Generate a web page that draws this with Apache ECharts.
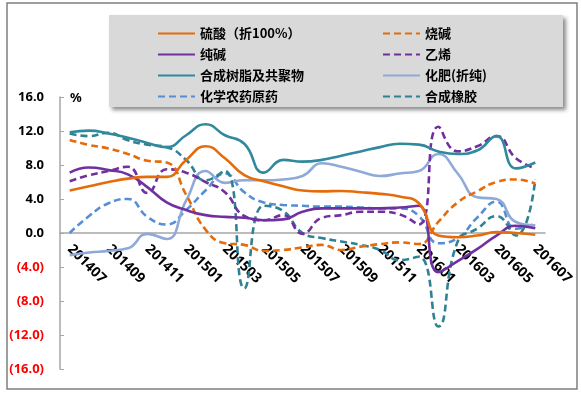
<!DOCTYPE html>
<html>
<head>
<meta charset="utf-8">
<script src="https://cdn.jsdelivr.net/npm/echarts@6/dist/echarts.min.js"></script>
<style>
html,body{margin:0;padding:0;background:#fff;}
#chart{width:581px;height:395px;}
</style>
</head>
<body>
<div id="chart"></div>
<script>
var categories = ['201407','201408','201409','201410','201411','201412','201501','201502','201503','201504','201505','201506','201507','201508','201509','201510','201511','201512','201601','201602','201603','201604','201605','201606','201607'];

var liusuan   = [5.0, 5.5, 6.0, 6.4, 6.6, 6.6, 8.6, 10.2, 8.8, 6.8, 6.1, 5.5, 5.0, 4.9, 4.95, 4.8, 4.6, 4.3, 3.5, -0.3, -0.5, -0.3, 0.1, 0.0, -0.2];
var shaojian  = [10.95, 10.35, 9.95, 9.3, 8.5, 8.3, 4.5, 0.4, -1.2, -1.4, -2.1, -2.0, -1.7, -1.4, -2.0, -1.6, -1.3, -1.1, -1.3, 1.3, 3.6, 4.9, 6.0, 6.3, 5.8];
var chunjian  = [7.1, 7.7, 7.4, 6.9, 5.4, 3.6, 2.7, 2.1, 1.9, 1.8, 1.5, 1.6, 2.5, 2.9, 2.9, 2.9, 2.9, 3.0, 3.2, -4.6, -3.3, -1.9, -0.3, 0.85, 0.55];
var yixi      = [6.1, 6.8, 7.3, 7.8, 4.7, 7.5, 7.1, 6.0, 4.8, 2.0, 1.5, 2.1, -0.1, 1.8, 2.1, 2.5, 2.5, 2.2, 1.0, 12.5, 9.6, 10.2, 11.4, 8.8, 7.6];
var shuzhi    = [11.85, 12.05, 11.7, 11.2, 10.6, 10.1, 11.5, 12.8, 11.5, 10.5, 7.1, 8.6, 8.4, 8.6, 9.1, 9.6, 10.1, 10.5, 10.4, 9.6, 9.3, 9.7, 11.4, 7.6, 8.3];
var huafei    = [-2.6, -2.3, -2.1, -1.8, -0.1, -0.7, 3.8, 7.3, 5.9, 6.2, 6.2, 6.3, 6.7, 8.2, 7.8, 7.2, 6.7, 7.0, 7.3, 9.3, 7.0, 4.2, 4.0, 1.3, 0.9];
var nongyao   = [0.0, 2.0, 3.5, 4.0, 1.9, 1.0, 2.7, 5.0, 7.0, 4.8, 3.6, 3.3, 3.2, 3.1, 3.1, 3.0, 2.9, 2.9, 2.0, -1.2, -0.6, 1.8, 3.7, 0.5, 1.1];
var xiangjiao = [11.7, 11.4, 11.8, 10.9, 10.4, 10.1, 8.6, 6.2, 7.3, -6.5, 3.2, 2.6, 0.0, -0.6, -1.0, -1.4, -2.0, -3.2, -2.8, -11.0, -1.0, 0.5, 2.0, -0.3, 6.3];

var yMin = -16, yMax = 16, yStep = 4;

var names = ['硫酸（折100%）','烧碱','纯碱','乙烯','合成树脂及共聚物','化肥(折纯)','化学农药原药','合成橡胶'];

function mk(name, data, color, dashed) {
  return {
    name: name, type: 'line', data: data, smooth: 0.5,
    symbol: 'none', showSymbol: false,
    lineStyle: { color: color, width: 2.6, type: dashed ? [7, 4] : 'solid' },
    itemStyle: { color: color },
    emphasis: { disabled: true }
  };
}

var legendText = { fontSize: 13, fontWeight: 'bold', color: '#000', fontFamily: '"Noto Sans CJK SC", "Noto Sans", sans-serif' };
var numFont = '"Noto Sans", "Liberation Sans", sans-serif';

var chart = echarts.init(document.getElementById('chart'), null, { renderer: 'canvas' });
chart.setOption({
  animation: false,
  backgroundColor: '#fff',
  graphic: [
    { type: 'rect', z: -10, shape: { x: 7, y: 3, width: 570, height: 386 }, style: { fill: '#fff', stroke: '#7f7f7f', lineWidth: 1.5 } },
    { type: 'rect', z: -5, shape: { x: 109, y: 15, width: 454, height: 92 }, style: { fill: '#D9D9D9', shadowBlur: 4, shadowOffsetX: 3, shadowOffsetY: 3, shadowColor: 'rgba(0,0,0,0.45)' } },
    { type: 'text', left: 70, top: 92, style: { text: '%', fontSize: 13, fontWeight: 'bold', fill: '#000', fontFamily: numFont } }
  ],
  legend: [
    { data: [names[0], names[2], names[4], names[6]], orient: 'vertical', left: 152, top: 22, itemWidth: 37, itemHeight: 14, itemGap: 8, textStyle: legendText, selectedMode: false, itemStyle: { opacity: 0 } },
    { data: [names[1], names[3], names[5], names[7]], orient: 'vertical', left: 377, top: 22, itemWidth: 37, itemHeight: 14, itemGap: 8, textStyle: legendText, selectedMode: false, itemStyle: { opacity: 0 } }
  ],
  grid: { left: 60, right: 36, top: 97, bottom: 26, containLabel: false, outerBoundsMode: 'none' },
  xAxis: {
    type: 'category', data: categories, boundaryGap: true, offset: -136,
    axisLine: { onZero: false, lineStyle: { color: '#a6a6a6', width: 1.5 } },
    axisTick: { inside: true, length: 4, interval: 1, lineStyle: { color: '#a6a6a6' } },
    axisLabel: { interval: 1, rotate: -45, margin: 14, fontSize: 14, fontWeight: 'bold', color: '#000', fontFamily: numFont }
  },
  yAxis: {
    type: 'value', min: yMin, max: yMax, interval: yStep,
    splitLine: { show: false },
    axisLine: { show: true, lineStyle: { color: '#a6a6a6', width: 1.5 } },
    axisTick: { show: true, inside: true, length: 4, lineStyle: { color: '#a6a6a6' } },
    axisLabel: {
      margin: 16, fontSize: 13, fontWeight: 'bold', fontFamily: numFont,
      formatter: function (v) { return v < 0 ? '(' + Math.abs(v).toFixed(1) + ')' : v.toFixed(1); },
      color: function (v) { return Number(v) < 0 ? '#FF0000' : '#000'; }
    }
  },
  series: [
    mk(names[6], nongyao, '#558ED5', true),
    mk(names[5], huafei, '#8FA9D8', false),
    mk(names[7], xiangjiao, '#2F8294', true),
    mk(names[3], yixi, '#7030A0', true),
    mk(names[1], shaojian, '#E46C0A', true),
    mk(names[2], chunjian, '#7030A0', false),
    mk(names[0], liusuan, '#E46C0A', false),
    mk(names[4], shuzhi, '#31899E', false)
  ]
});
</script>
</body>
</html>
